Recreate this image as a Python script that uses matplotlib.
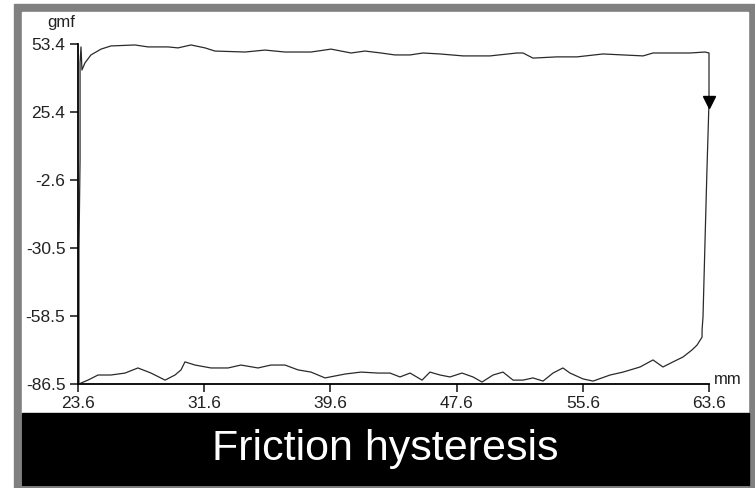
import matplotlib
matplotlib.use('Agg')
import matplotlib.pyplot as plt
from matplotlib.patches import Rectangle

plt.rcParams['font.family'] = ['Liberation Sans', 'DejaVu Sans']

# friction trace, one full loop (mm, gmf)
dist = [23.66, 23.66, 23.73, 23.73, 23.79, 23.85, 24.04, 24.42, 25.06, 25.69,
        27.21, 28.04, 28.67, 29.31, 29.94, 30.76, 31.65, 32.28, 34.19, 35.45,
        36.72, 38.37, 39.64, 40.91, 41.79, 42.81, 43.69, 44.65, 45.47, 46.55,
        48.01, 49.72, 51.43, 51.81, 52.44, 53.96, 55.23, 56.88, 58.15, 59.42,
        60.05, 61.32, 62.40, 63.35, 63.60,
        63.60, 63.47, 63.35, 63.22, 63.16, 63.16, 62.84, 62.52, 61.95, 61.32,
        60.68, 60.05, 59.23, 58.15, 57.33, 56.25, 55.61, 54.79, 54.34, 53.71,
        53.08, 52.44, 51.81, 51.18, 50.54, 49.91, 49.21, 48.64, 47.94, 47.18,
        46.55, 45.91, 45.41, 44.65, 44.01, 43.38, 42.62, 41.54, 40.53, 39.26,
        38.37, 37.55, 36.72, 35.83, 35.01, 33.93, 33.11, 32.03, 31.02, 30.38,
        30.13, 29.75, 29.12, 28.23, 27.40, 26.58, 25.69, 24.87, 24.23, 23.79]
force = [-86.1, -31.4, 5.7, 45.6, 52.2, 42.7, 45.6, 48.9, 51.3, 52.6,
         53.0, 52.2, 52.2, 52.2, 51.8, 53.0, 51.8, 50.5, 50.1, 50.9,
         50.1, 50.1, 51.3, 49.7, 50.5, 49.7, 48.9, 48.9, 49.7, 49.3,
         48.5, 48.5, 49.7, 49.7, 47.6, 48.1, 48.1, 49.3, 48.9, 48.5,
         49.7, 49.7, 49.7, 50.1, 49.7,
         29.5, 1.6, -27.2, -58.9, -64.3, -67.2, -70.5, -72.5, -75.4, -77.4,
         -79.5, -76.6, -79.5, -81.6, -82.8, -85.3, -84.4, -82.0, -79.9, -82.0,
         -85.3, -84.0, -84.9, -84.9, -81.6, -82.8, -85.7, -83.6, -82.0, -83.6,
         -82.8, -81.6, -84.9, -82.0, -83.6, -82.0, -82.0, -81.6, -82.4, -84.0,
         -81.6, -80.7, -78.7, -78.7, -79.9, -78.7, -79.9, -79.9, -78.7, -77.4,
         -80.7, -82.8, -84.9, -82.0, -79.9, -82.0, -82.8, -82.8, -84.9, -86.1]

xticks = [23.6, 31.6, 39.6, 47.6, 55.6, 63.6]
xlabels = ['23.6', '31.6', '39.6', '47.6', '55.6', '63.6']
yticks = [53.4, 25.4, -2.6, -30.5, -58.5, -86.5]
ylabels = ['53.4', '25.4', '-2.6', '-30.5', '-58.5', '-86.5']
arrow_at = (63.6, 29.5)

fig = plt.figure(figsize=(7.55, 4.88), dpi=100)
W, H = 755.0, 488.0

def box(x0, y0, x1, y1, color):
    # pixel box (top-left origin) -> figure patch behind the axes
    fig.patches.append(Rectangle((x0 / W, 1 - y1 / H), (x1 - x0) / W, (y1 - y0) / H,
                                 transform=fig.transFigure, color=color, zorder=-10))

box(14, 4, 755, 488, '#808080')
box(22, 12, 748, 485, 'white')
box(22, 413, 749, 485, 'black')

ax = fig.add_axes([78 / W, 1 - 384 / H, 631 / W, 340 / H])
ax.patch.set_alpha(0)
ax.plot(dist, force, color='#2a2a2a', lw=0.9, clip_on=False)
ax.plot([arrow_at[0]], [arrow_at[1]], marker='v', ms=9, color='black', clip_on=False)

ax.set_xlim(23.6, 63.6)
ax.set_ylim(-86.5, 53.4)
ax.set_xticks(xticks, xlabels)
ax.set_yticks(yticks, ylabels)
ax.spines['top'].set_visible(False)
ax.spines['right'].set_visible(False)
for s in ['left', 'bottom']:
    ax.spines[s].set_linewidth(1.3)
ax.tick_params(direction='out', length=6, width=1.2, labelsize=12.5, pad=3, colors='#222222')

fig.text(61 / W, 1 - 23 / H, 'gmf', ha='center', va='center', fontsize=12, color='#222222')
fig.text(728 / W, 1 - 380 / H, 'mm', ha='center', va='center', fontsize=12, color='#222222')
fig.text(385 / W, 1 - 449 / H, 'Friction hysteresis', ha='center', va='center',
         fontsize=31, color='white')

fig.savefig('out.png', dpi=100)
